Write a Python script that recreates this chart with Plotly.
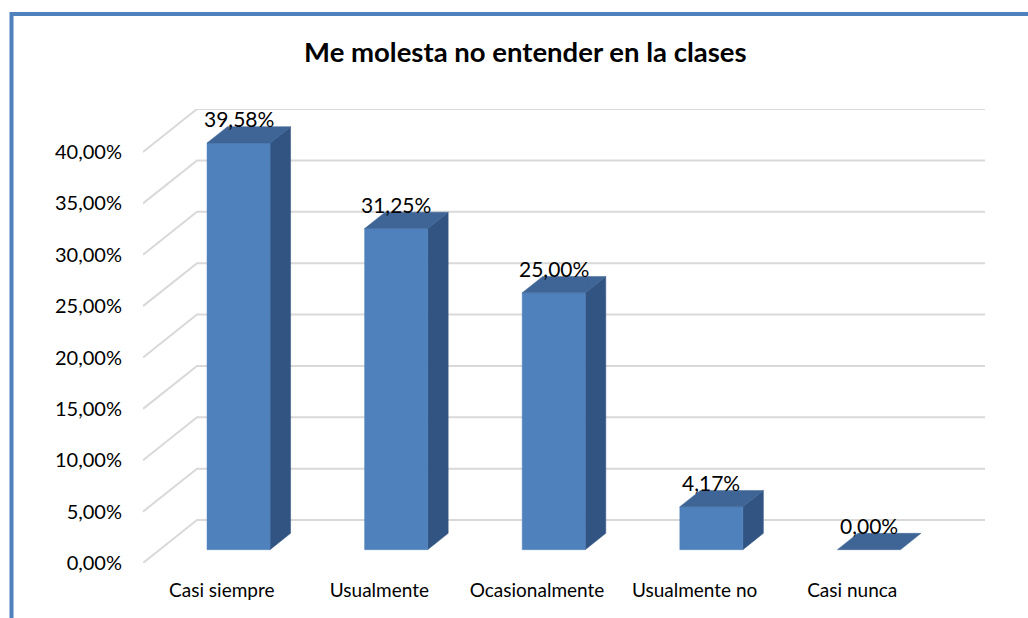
import plotly.graph_objects as go

# ---- data ----
categories = ["Casi siempre", "Usualmente", "Ocasionalmente", "Usualmente no", "Casi nunca"]
values = [39.58, 31.25, 25.00, 4.17, 0.00]
value_labels = ["39,58%", "31,25%", "25,00%", "4,17%", "0,00%"]
y_ticks = [0, 5, 10, 15, 20, 25, 30, 35, 40]
y_tick_labels = ["0,00%", "5,00%", "10,00%", "15,00%", "20,00%", "25,00%", "30,00%", "35,00%", "40,00%"]
title = "Me molesta no entender en la clases"

# ---- style / projection ----
W, H = 1028, 618
ML, MR, MT, MB = 143, 43, 109, 55
X_MIN, X_MAX_FRONT = -0.5, len(categories) - 0.5
px_per_x = 788 / (X_MAX_FRONT - X_MIN)
DX = 54 / px_per_x          # full depth shift in x units
Y_MAX = max(y_ticks)
px_per_y = 411 / Y_MAX
DY = 43 / px_per_y          # full depth shift in y units
D0, D1 = 0.31, 0.69         # bar depth (fraction)
HALF = 0.2                  # half bar width (x units)

FRONT = "#4F81BD"
SIDE = "#325482"
TOP = "#3E6596"
GRID = "#D9D9D9"
FONT = "Lato"

fig = go.Figure()

# gridlines (side wall diagonal + back wall horizontal)
for v in y_ticks:
    fig.add_trace(go.Scatter(
        x=[X_MIN, X_MIN + DX, X_MAX_FRONT + DX],
        y=[v, v + DY, v + DY],
        mode="lines", line=dict(color=GRID, width=2),
        hoverinfo="skip", showlegend=False))


def poly(xs, ys, color):
    fig.add_trace(go.Scatter(
        x=xs + [xs[0]], y=ys + [ys[0]], mode="lines", fill="toself",
        fillcolor=color, line=dict(color=color, width=0.5),
        hoverinfo="skip", showlegend=False))


for i, v in enumerate(values):
    xl0 = i - HALF + D0 * DX
    xr0 = i + HALF + D0 * DX
    xl1 = i - HALF + D1 * DX
    xr1 = i + HALF + D1 * DX
    y0b, y1b = D0 * DY, D1 * DY
    if v > 0:
        # right side face
        poly([xr0, xr1, xr1, xr0], [y0b, y1b, v + y1b, v + y0b], SIDE)
        # front face
        poly([xl0, xr0, xr0, xl0], [y0b, y0b, v + y0b, v + y0b], FRONT)
    # top face
    poly([xl0, xr0, xr1, xl1], [v + y0b, v + y0b, v + y1b, v + y1b], TOP)
    fig.add_annotation(x=i + D0 * DX, y=v + D1 * DY, text=value_labels[i],
                       showarrow=False, xanchor="center", yanchor="middle", yshift=8,
                       font=dict(family=FONT, size=21, color="#000000"))

# chart border (top and left visible)
def px2paper_x(p):
    return (p - ML) / (W - ML - MR)


def px2paper_y(p):
    return 1 - (p - MT) / (H - MT - MB)


fig.add_shape(type="rect", xref="paper", yref="paper",
              x0=px2paper_x(11.5), x1=px2paper_x(1040),
              y0=px2paper_y(640), y1=px2paper_y(14),
              line=dict(color="#4F81BD", width=4), fillcolor="rgba(0,0,0,0)")

fig.update_layout(
    width=W, height=H,
    margin=dict(l=ML, r=MR, t=MT, b=MB, autoexpand=False),
    paper_bgcolor="white", plot_bgcolor="white",
    title=dict(text=f"<b>{title}</b>", x=0.511, xanchor="center", y=1 - 52 / H, yanchor="middle",
               font=dict(family=FONT, size=27.5, color="#000000")),
    xaxis=dict(range=[X_MIN, X_MAX_FRONT + DX], tickvals=list(range(len(categories))),
               ticktext=categories, showgrid=False, zeroline=False, showline=False,
               ticks="", ticklabelstandoff=14,
               tickfont=dict(family=FONT, size=19, color="#000000"), fixedrange=True),
    yaxis=dict(range=[0, Y_MAX + DY], tickvals=y_ticks, ticktext=y_tick_labels,
               showgrid=False, zeroline=False, showline=False, ticks="",
               ticklabelstandoff=20,
               tickfont=dict(family=FONT, size=20, color="#000000"), fixedrange=True),
    showlegend=False,
)

fig.write_html("out.html", config={"displayModeBar": False},
               post_script="document.body.style.margin='0';document.body.style.overflow='hidden';")
